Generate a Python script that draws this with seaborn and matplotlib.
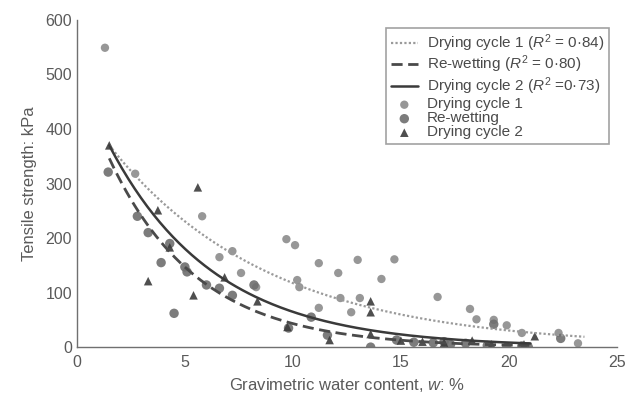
import numpy as np
import pandas as pd
import matplotlib
matplotlib.use("Agg")
import matplotlib.pyplot as plt
from matplotlib.ticker import MultipleLocator
import seaborn as sns

# Measured tensile strength (kPa) against gravimetric water content (%)
dry1_w = [1.3, 2.7, 5.8, 6.6, 7.2, 7.6, 8.3, 9.7, 10.1, 10.2, 10.3, 11.2, 12.1, 13.0,
          14.1, 14.7, 12.2, 13.1, 11.2, 12.7, 16.7, 18.2, 18.5, 19.3, 19.9, 20.6,
          22.3, 23.2]
dry1_ts = [549, 318, 240, 165, 176, 136, 110, 198, 187, 123, 110, 154, 136, 160,
           125, 161, 90, 90, 72, 64, 92, 70, 51, 50, 40, 26, 26, 7]

rewet_w = [1.45, 2.8, 3.3, 3.9, 4.3, 4.5, 5.0, 5.1, 6.0, 6.6, 7.2, 8.2, 9.8, 10.85,
           11.6, 13.6, 14.8, 15.6, 16.5, 17.0, 17.3, 18.0, 19.0, 19.9, 20.6, 20.9,
           22.4, 19.3]
rewet_ts = [321, 240, 210, 155, 190, 62, 147, 138, 114, 108, 95, 114, 35, 55,
            22, 0, 13, 9, 8, 10, 5, 7, 3, 0, 2, 0, 16, 42]

dry2_w = [1.5, 3.3, 3.75, 4.3, 5.4, 5.6, 6.84, 8.36, 9.75, 13.6, 13.6, 13.6, 11.7,
          15.0, 16.0, 17.0, 18.3, 19.2, 20.7, 21.2]
dry2_ts = [370, 121, 251, 183, 95, 293, 128, 84, 37, 84, 64, 24, 13,
           12, 10, 8, 12, 5, 5, 20]

# Exponential fits  TS = a * exp(-b * w)  and the water-content range of each fit
fit_names = ["Drying cycle 1 ($R^2$ = 0·84)",
             "Re-wetting ($R^2$ = 0·80)",
             "Drying cycle 2 ($R^2$ =0·73)"]
fit_a = [453, 500, 503]
fit_b = [0.135, 0.245, 0.205]
fit_w_min = [1.5, 1.5, 1.5]
fit_w_max = [23.5, 21.0, 21.0]

series_names = ["Drying cycle 1", "Re-wetting", "Drying cycle 2"]

sns.set_theme(style="white")
plt.rcParams["font.family"] = ["Liberation Sans", "DejaVu Sans"]
plt.rcParams["mathtext.fontset"] = "custom"
plt.rcParams["mathtext.it"] = "Liberation Sans:italic"
plt.rcParams["mathtext.rm"] = "Liberation Sans"

txt = "#5a5a5a"

fig = plt.figure(figsize=(6.25, 3.99), dpi=100)
ax = fig.add_axes([0.123, 0.130, 0.864, 0.820])

# fitted curves
curves = []
for name, a, b, lo, hi in zip(fit_names, fit_a, fit_b, fit_w_min, fit_w_max):
    w = np.linspace(lo, hi, 200)
    curves.append(pd.DataFrame({"w": w, "ts": a * np.exp(-b * w), "fit": name}))
curve_df = pd.concat(curves, ignore_index=True)

line_styles = {fit_names[0]: (0, (1, 1)), fit_names[1]: (0, (4, 2)), fit_names[2]: "-"}
line_colors = {fit_names[0]: "#9a9a9a", fit_names[1]: "#4a4a4a", fit_names[2]: "#3a3a3a"}
line_widths = {fit_names[0]: 1.6, fit_names[1]: 2.0, fit_names[2]: 1.8}
for name in fit_names:
    sub = curve_df[curve_df["fit"] == name]
    sns.lineplot(data=sub, x="w", y="ts", ax=ax, color=line_colors[name],
                 lw=line_widths[name], label=name, linestyle=line_styles[name])

# measured points
pts = pd.concat([
    pd.DataFrame({"w": dry1_w, "ts": dry1_ts, "series": series_names[0]}),
    pd.DataFrame({"w": rewet_w, "ts": rewet_ts, "series": series_names[1]}),
    pd.DataFrame({"w": dry2_w, "ts": dry2_ts, "series": series_names[2]}),
], ignore_index=True)

marker_style = {series_names[0]: ("o", 36, "#8c8c8c"),
                series_names[1]: ("o", 46, "#6e6e6e"),
                series_names[2]: ("^", 38, "#3c3c3c")}
for name in series_names:
    m, s, c = marker_style[name]
    sub = pts[pts["series"] == name]
    sns.scatterplot(data=sub, x="w", y="ts", ax=ax, marker=m, s=s, color=c,
                    edgecolor="none", alpha=0.9, label=name)

ax.set_xlim(0, 25)
ax.set_ylim(0, 600)
ax.xaxis.set_major_locator(MultipleLocator(5))
ax.xaxis.set_minor_locator(MultipleLocator(1))
ax.yaxis.set_major_locator(MultipleLocator(100))
ax.yaxis.set_minor_locator(MultipleLocator(50))
ax.tick_params(which="both", direction="in", color="#707070", labelcolor=txt,
               labelsize=11.5, width=0.8)
ax.tick_params(which="major", length=4)
ax.tick_params(which="minor", length=2.5)
ax.tick_params(axis="x", pad=6)
for side in ["top", "right"]:
    ax.spines[side].set_visible(False)
for side in ["left", "bottom"]:
    ax.spines[side].set_color("#707070")
    ax.spines[side].set_linewidth(1.0)

ax.set_xlabel("Gravimetric water content, $w$: %", color=txt, fontsize=12, labelpad=4)
ax.set_ylabel("Tensile strength: kPa", color=txt, fontsize=12, labelpad=6)

leg = ax.legend(loc="upper right", bbox_to_anchor=(1.0, 1.0), fontsize=11,
                frameon=True, fancybox=False, edgecolor="#8a8a8a",
                labelspacing=0.0, handlelength=1.8, handleheight=0.5,
                handletextpad=0.6, borderpad=0.3, labelcolor="#4a4a4a")
leg.get_frame().set_linewidth(1.2)

fig.savefig("out.png", dpi=100)
